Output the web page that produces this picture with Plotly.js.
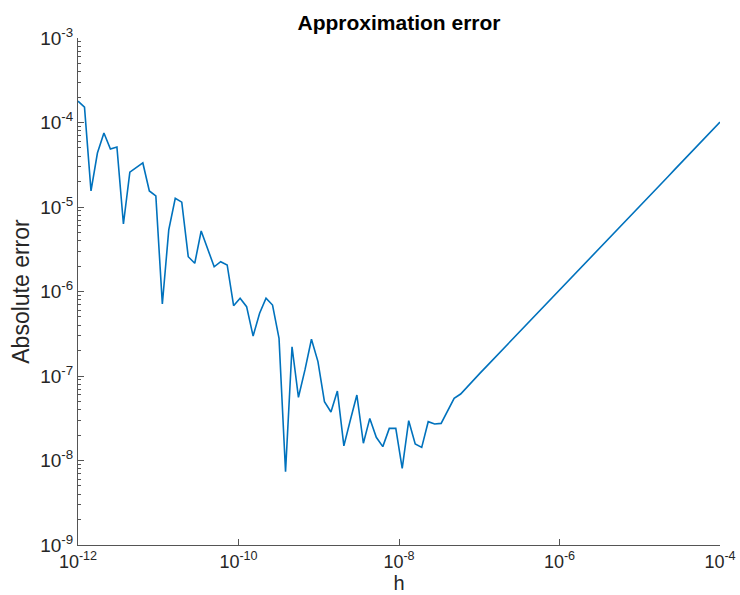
<!DOCTYPE html>
<html>
<head>
<meta charset="utf-8">
<script src="https://cdn.plot.ly/plotly-3.0.1.min.js"></script>
<style>
  html, body { margin: 0; padding: 0; background: #fff; }
  #chart { width: 740px; height: 595px; }
</style>
</head>
<body>
<div id="chart"></div>
<script>
// Step sizes h, given as base-10 exponents (100 log-spaced steps from 1e-12 to 1e-4)
const log10h = [
  -12.000, -11.919, -11.838, -11.758, -11.677, -11.596, -11.515, -11.434, -11.354, -11.273,
  -11.192, -11.111, -11.030, -10.949, -10.869, -10.788, -10.707, -10.626, -10.545, -10.465,
  -10.384, -10.303, -10.222, -10.141, -10.061,  -9.980,  -9.899,  -9.818,  -9.737,  -9.657,
   -9.576,  -9.495,  -9.414,  -9.333,  -9.253,  -9.172,  -9.091,  -9.010,  -8.929,  -8.848,
   -8.768,  -8.687,  -8.606,  -8.525,  -8.444,  -8.364,  -8.283,  -8.202,  -8.121,  -8.040,
   -7.960,  -7.879,  -7.798,  -7.717,  -7.636,  -7.556,  -7.475,  -7.394,  -7.313,  -7.232,
   -7.152,  -7.071,  -6.990,  -6.909,  -6.828,  -6.747,  -6.667,  -6.586,  -6.505,  -6.424,
   -6.343,  -6.263,  -6.182,  -6.101,  -6.020,  -5.939,  -5.859,  -5.778,  -5.697,  -5.616,
   -5.535,  -5.455,  -5.374,  -5.293,  -5.212,  -5.131,  -5.051,  -4.970,  -4.889,  -4.808,
   -4.727,  -4.646,  -4.566,  -4.485,  -4.404,  -4.323,  -4.242,  -4.162,  -4.081,  -4.000
];

// Absolute error of the finite-difference approximation at each step size
const absError = [
  1.79e-4, 1.52e-4, 1.55e-5, 4.35e-5, 7.52e-5, 4.85e-5, 5.13e-5, 6.29e-6, 2.59e-5, 2.97e-5,
  3.32e-5, 1.55e-5, 1.35e-5, 7.11e-7, 5.35e-6, 1.27e-5, 1.14e-5, 2.58e-6, 2.16e-6, 5.20e-6,
  3.24e-6, 1.96e-6, 2.25e-6, 2.06e-6, 6.79e-7, 8.32e-7, 6.61e-7, 2.97e-7, 5.52e-7, 8.32e-7,
  6.92e-7, 2.79e-7, 7.36e-9, 2.22e-7, 5.60e-8, 1.18e-7, 2.72e-7, 1.48e-7, 4.97e-8, 3.75e-8,
  6.64e-8, 1.49e-8, 3.01e-8, 5.96e-8, 1.60e-8, 3.15e-8, 1.88e-8, 1.46e-8, 2.40e-8, 2.40e-8,
  8.09e-9, 2.96e-8, 1.57e-8, 1.43e-8, 2.88e-8, 2.70e-8, 2.75e-8, 3.79e-8, 5.45e-8, 6.12e-8,
  7.46e-8, 8.98e-8, 1.081e-7, 1.30e-7, 1.563e-7, 1.88e-7, 2.263e-7, 2.72e-7, 3.27e-7, 3.94e-7,
  4.74e-7, 5.70e-7, 6.86e-7, 8.26e-7, 9.93e-7, 1.194e-6, 1.438e-6, 1.730e-6, 2.080e-6, 2.50e-6,
  3.013e-6, 3.62e-6, 4.36e-6, 5.25e-6, 6.31e-6, 7.59e-6, 9.13e-6, 1.099e-5, 1.321e-5, 1.589e-5,
  1.91e-5, 2.30e-5, 2.77e-5, 3.33e-5, 4.01e-5, 4.82e-5, 5.80e-5, 6.98e-5, 8.39e-5, 1.009e-4
];

// Axis tick positions and labels
const xTickVals = [1e-12, 1e-10, 1e-8, 1e-6, 1e-4];
const xTickText = ['10<sup>-12</sup>', '10<sup>-10</sup>', '10<sup>-8</sup>', '10<sup>-6</sup>', '10<sup>-4</sup>'];
const yTickVals = [1e-9, 1e-8, 1e-7, 1e-6, 1e-5, 1e-4, 1e-3];
const yTickText = ['10<sup>-9</sup>', '10<sup>-8</sup>', '10<sup>-7</sup>', '10<sup>-6</sup>', '10<sup>-5</sup>', '10<sup>-4</sup>', '10<sup>-3</sup>'];

const h = log10h.map(e => Math.pow(10, e));

const FONT = 'Liberation Sans, Arial, Helvetica, sans-serif';
const AXIS_COLOR = '#555555';
const TEXT_COLOR = '#262626';

const trace = {
  x: h,
  y: absError,
  type: 'scatter',
  mode: 'lines',
  line: { color: '#0072BD', width: 1.6 },
  hoverinfo: 'x+y'
};

const commonAxis = {
  type: 'log',
  showline: true,
  linecolor: AXIS_COLOR,
  linewidth: 1,
  mirror: false,
  showgrid: false,
  zeroline: false,
  ticks: 'inside',
  ticklen: 6,
  tickwidth: 1,
  tickcolor: AXIS_COLOR,
  tickmode: 'array',
  tickfont: { family: FONT, size: 19, color: TEXT_COLOR },
  automargin: false
};

const layout = {
  width: 740,
  height: 595,
  margin: { l: 78, r: 20, t: 38, b: 50 },
  paper_bgcolor: '#ffffff',
  plot_bgcolor: '#ffffff',
  showlegend: false,
  font: { family: FONT, color: TEXT_COLOR },
  title: {
    text: '<b>Approximation error</b>',
    font: { family: FONT, size: 21, color: '#000000' },
    x: 0.5, xref: 'paper', xanchor: 'center',
    y: 0.962, yref: 'container', yanchor: 'middle'
  },
  xaxis: Object.assign({}, commonAxis, {
    range: [-12, -4],
    tickvals: xTickVals,
    ticktext: xTickText,
    tickfont: { family: FONT, size: 18, color: TEXT_COLOR },
    ticklabelstandoff: 0,
    title: { text: 'h', font: { family: FONT, size: 20, color: TEXT_COLOR }, standoff: 4 }
  }),
  yaxis: Object.assign({}, commonAxis, {
    range: [-9, -3],
    tickvals: yTickVals,
    ticktext: yTickText,
    minor: {
      dtick: 'D1',
      ticks: 'inside',
      ticklen: 3,
      tickwidth: 1,
      tickcolor: AXIS_COLOR,
      showgrid: false
    },
    title: { text: 'Absolute error', font: { family: FONT, size: 23, color: TEXT_COLOR }, standoff: 4 }
  })
};

Plotly.newPlot('chart', [trace], layout, { staticPlot: true, displayModeBar: false });
</script>
</body>
</html>
